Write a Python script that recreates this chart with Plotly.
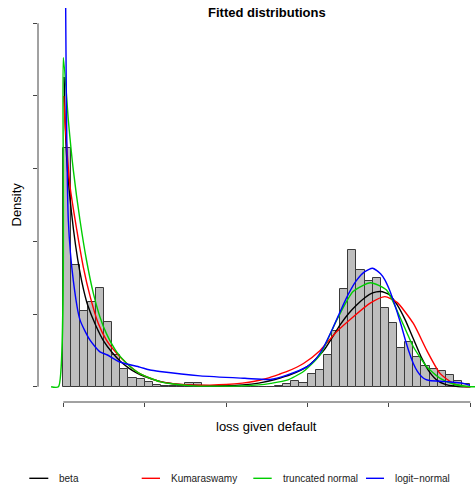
import plotly.graph_objects as go

# ---------------- data ----------------
bin_width = 0.02
bin_starts = [round(i * 0.02, 2) for i in range(50)]
densities = [3.28, 1.67, 1.04, 1.17, 1.36, 0.89, 0.43, 0.25, 0.115, 0.10,
             0.06, 0.03, 0.015, 0.01, 0.01, 0.046, 0.046, 0.0, 0.0, 0.0,
             0.0, 0.0, 0.0, 0.0, 0.0, 0.0, 0.01, 0.04, 0.08, 0.055,
             0.18, 0.23, 0.44, 0.77, 1.35, 1.88, 1.61, 1.46, 1.50, 1.09,
             0.87, 0.53, 0.62, 0.41, 0.29, 0.25, 0.22, 0.16, 0.085, 0.04]

beta_x = [0.002, 0.005, 0.01, 0.02, 0.03, 0.04, 0.05, 0.06, 0.08, 0.10, 0.12, 0.14, 0.16, 0.18, 0.20,
          0.24, 0.28, 0.32, 0.36, 0.40, 0.44, 0.48, 0.52, 0.56, 0.60, 0.64, 0.68, 0.70, 0.72, 0.74,
          0.76, 0.78, 0.80, 0.82, 0.84, 0.86, 0.88, 0.90, 0.92, 0.94, 0.96, 0.98, 1.0]
beta_y = [4.26, 3.55, 3.0, 2.4, 1.95, 1.6, 1.33, 1.12, 0.84, 0.62, 0.47, 0.35, 0.26, 0.19, 0.14,
          0.07, 0.035, 0.02, 0.015, 0.015, 0.025, 0.05, 0.10, 0.17, 0.28, 0.50, 0.85, 1.0, 1.12, 1.22,
          1.29, 1.31, 1.27, 1.13, 0.92, 0.66, 0.40, 0.20, 0.08, 0.03, 0.01, 0.0, 0.0]

kuma_x = [0.001, 0.004, 0.0167, 0.033, 0.049, 0.066, 0.086, 0.106, 0.131, 0.156, 0.188, 0.237,
          0.28, 0.32, 0.36, 0.40, 0.44, 0.47, 0.50, 0.53, 0.55, 0.59, 0.631, 0.672, 0.712, 0.754,
          0.79, 0.82, 0.86, 0.893, 0.926, 0.958, 0.99, 1.0]
kuma_y = [4.0, 3.67, 2.75, 2.16, 1.65, 1.24, 0.87, 0.64, 0.46, 0.32, 0.18, 0.07,
          0.035, 0.022, 0.022, 0.03, 0.05, 0.075, 0.115, 0.17, 0.21, 0.32, 0.50, 0.76, 0.96, 1.15,
          1.24, 1.16, 0.87, 0.50, 0.18, 0.047, 0.0, 0.0]

tnorm_x = [-0.03, -0.012, 0.0, 0.0123, 0.0246, 0.041, 0.057, 0.074, 0.090, 0.106, 0.131, 0.156,
           0.188, 0.237, 0.28, 0.32, 0.36, 0.40, 0.44, 0.48, 0.51, 0.55, 0.59, 0.631, 0.672, 0.712,
           0.755, 0.794, 0.827, 0.86, 0.893, 0.926, 0.958, 0.999, 1.02]
tnorm_y = [0.0, 0.0, 4.53, 3.67, 2.98, 2.29, 1.74, 1.28, 0.96, 0.73, 0.48, 0.32,
           0.18, 0.07, 0.03, 0.012, 0.008, 0.008, 0.012, 0.025, 0.047, 0.09, 0.21, 0.44, 0.92, 1.31,
           1.43, 1.33, 0.96, 0.55, 0.275, 0.115, 0.037, 0.0, 0.0]

logit_x = [0.004, 0.0123, 0.0246, 0.041, 0.0656, 0.090, 0.107, 0.139, 0.188, 0.213, 0.237, 0.336,
           0.446, 0.508, 0.549, 0.60, 0.62, 0.64, 0.66, 0.68, 0.70, 0.72, 0.74, 0.76, 0.78, 0.79,
           0.80, 0.81, 0.82, 0.83, 0.84, 0.85, 0.86, 0.87, 0.88, 0.89, 0.90, 0.942, 0.983, 0.999]
logit_y = [7.0, 2.29, 1.46, 0.92, 0.64, 0.48, 0.44, 0.34, 0.27, 0.23, 0.21, 0.15,
           0.116, 0.10, 0.16, 0.28, 0.38, 0.55, 0.78, 1.03, 1.27, 1.46, 1.58, 1.63, 1.55, 1.47,
           1.35, 1.20, 1.03, 0.85, 0.65, 0.47, 0.32, 0.21, 0.14, 0.10, 0.085, 0.07, 0.047, 0.02]

x_ticks = [0, 0.2, 0.4, 0.6, 0.8, 1.0]
y_ticks = [0, 1, 2, 3, 4, 5]

series_names = ["beta", "Kumaraswamy", "truncated normal", "logit\u2212normal"]
series_colors = ["#000000", "#FF0000", "#00CD00", "#0000FF"]

# ---------------- layout geometry (pixels) ----------------
W, H = 475, 485
L, R, T, B = 38, 0, 8, 83
PW, PH = W - L - R, H - T - B


def px(xp):
    return (xp - L) / PW


def py(yp):
    return (H - B - yp) / PH


FONT = "Liberation Sans, Arial, Helvetica, sans-serif"

fig = go.Figure()

centers = [s + bin_width / 2 for s in bin_starts]
fig.add_trace(go.Bar(x=centers, y=densities, width=bin_width,
                     marker=dict(color="#bebebe", line=dict(color="#3a3a3a", width=1)),
                     showlegend=False, hoverinfo="skip"))

curves = [(beta_x, beta_y), (kuma_x, kuma_y), (tnorm_x, tnorm_y), (logit_x, logit_y)]
for (cx, cy), name, col in zip(curves, series_names, series_colors):
    fig.add_trace(go.Scatter(x=cx, y=cy, mode="lines", name=name,
                             line=dict(color=col, width=1.4, shape="spline", smoothing=0.6),
                             showlegend=False))

shapes = [
    dict(type="line", xref="paper", yref="y", x0=0, x1=0, y0=y_ticks[0], y1=y_ticks[-1],
         line=dict(color="#444", width=1)),
    dict(type="line", xref="x", yref="paper", x0=x_ticks[0], x1=x_ticks[-1], y0=0, y1=0,
         line=dict(color="#444", width=1)),
]

annotations = [
    dict(text="<b>Fitted distributions</b>", xref="paper", yref="paper", x=px(267), y=py(12),
         showarrow=False, font=dict(family=FONT, size=13, color="#000"), xanchor="center", yanchor="middle"),
    dict(text="Density", xref="paper", yref="paper", x=px(15.5), y=0.5, textangle=-90,
         showarrow=False, font=dict(family=FONT, size=13, color="#000"), xanchor="center", yanchor="middle"),
    dict(text="loss given default", xref="paper", yref="paper", x=px(266.7), y=py(426),
         showarrow=False, font=dict(family=FONT, size=13, color="#000"), xanchor="center", yanchor="middle"),
]

leg_line_x = [(29.3, 48.3), (141.7, 160), (253.3, 271.7), (366, 384)]
leg_text_x = [57.3, 169.3, 281, 392.7]
leg_y = 478.3
for (a, b), tx, name, col in zip(leg_line_x, leg_text_x, series_names, series_colors):
    shapes.append(dict(type="line", xref="paper", yref="paper", x0=px(a), x1=px(b),
                       y0=py(leg_y), y1=py(leg_y), line=dict(color=col, width=1.4)))
    annotations.append(dict(text=name, xref="paper", yref="paper", x=px(tx), y=py(leg_y),
                            showarrow=False, xanchor="left", yanchor="middle",
                            font=dict(family=FONT, size=10, color="#222")))

fig.update_layout(
    width=W, height=H, margin=dict(l=L, r=R, t=T, b=B, pad=0),
    paper_bgcolor="white", plot_bgcolor="white",
    bargap=0, showlegend=False,
    xaxis=dict(range=[-0.0622, 1.0115], tickvals=x_ticks, ticks="outside", ticklen=4,
               tickcolor="#444", tickwidth=1, showticklabels=False, showgrid=False,
               zeroline=False, showline=False),
    yaxis=dict(range=[-0.21, 5.21], tickvals=y_ticks, ticks="outside", ticklen=4,
               tickcolor="#444", tickwidth=1, showticklabels=False, showgrid=False,
               zeroline=False, showline=False),
    shapes=shapes, annotations=annotations,
)

fig.write_html("out.html")
